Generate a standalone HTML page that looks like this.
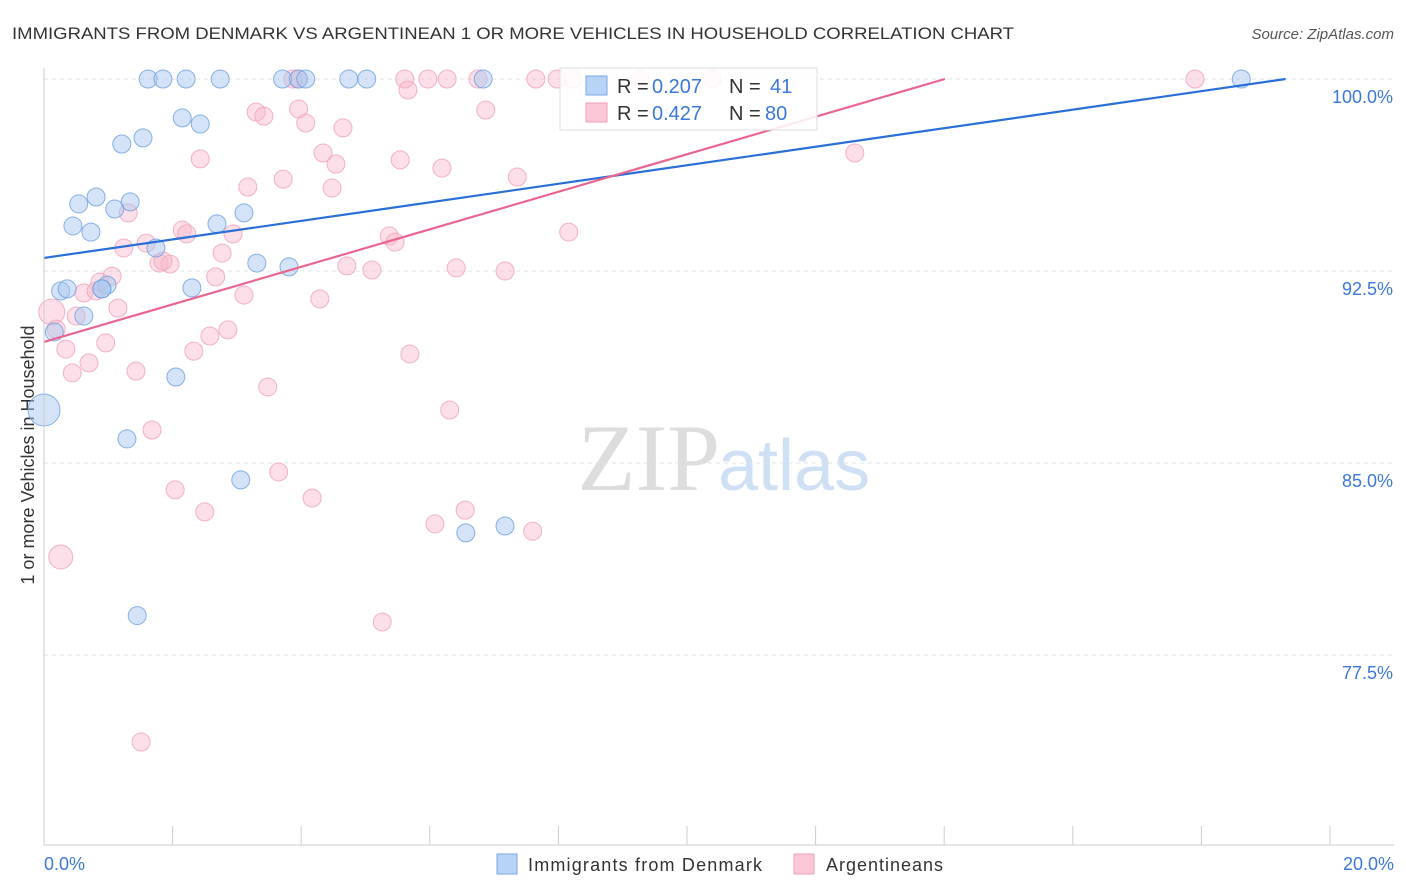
<!DOCTYPE html>
<html><head><meta charset="utf-8">
<style>
body{margin:0;background:#fff;font-family:"Liberation Sans",sans-serif;}
svg{display:block}
</style></head>
<body>
<svg id="c" width="1406" height="892" xmlns="http://www.w3.org/2000/svg">
<text x="12" y="39" font-size="17" fill="#333" textLength="1002" lengthAdjust="spacingAndGlyphs">IMMIGRANTS FROM DENMARK VS ARGENTINEAN 1 OR MORE VEHICLES IN HOUSEHOLD CORRELATION CHART</text>
<text x="1394" y="39" font-size="15" fill="#555" font-style="italic" text-anchor="end">Source: ZipAtlas.com</text>
<text x="34" y="455" font-size="18" fill="#333" text-anchor="middle" transform="rotate(-90 34 455)">1 or more Vehicles in Household</text>
<text x="720" y="490" font-size="95" fill="#ddd" text-anchor="end" font-family="Liberation Serif,serif">ZIP</text>
<text x="718" y="490" font-size="72" fill="#cfe0f5">atlas</text>
<g id="grid"></g><g id="pts"></g><g id="lines"></g>
<line x1="44" y1="68" x2="44" y2="845" stroke="#ccc"/>
<line x1="44" y1="845" x2="1394" y2="845" stroke="#ccc"/>
<text x="44" y="870" font-size="18" fill="#3b78d8">0.0%</text>
<text x="1394" y="870" font-size="18" fill="#3b78d8" text-anchor="end">20.0%</text>
<g>
<rect x="560" y="68" width="257" height="62" fill="#fff" fill-opacity="0.85" stroke="#ddd"/>
<rect x="586" y="76" width="21" height="19" fill="#b7d3f6" stroke="#7aaae8"/>
<rect x="586" y="103" width="21" height="19" fill="#fcc8d8" stroke="#f0a0b8"/>
<text x="617" y="93" font-size="20" fill="#333">R =</text>
<text x="652" y="93" font-size="20" fill="#3b78d8">0.207</text>
<text x="729" y="93" font-size="20" fill="#333">N =</text>
<text x="770" y="93" font-size="20" fill="#3b78d8">41</text>
<text x="617" y="120" font-size="20" fill="#333">R =</text>
<text x="652" y="120" font-size="20" fill="#3b78d8">0.427</text>
<text x="729" y="120" font-size="20" fill="#333">N =</text>
<text x="765" y="120" font-size="20" fill="#3b78d8">80</text>
</g>
<g>
<rect x="497" y="854" width="20" height="20" fill="#b7d3f6" stroke="#7aaae8"/>
<text x="528" y="871" font-size="18" fill="#333" textLength="234">Immigrants from Denmark</text>
<rect x="794" y="854" width="20" height="20" fill="#fcc8d8" stroke="#f0a0b8"/>
<text x="826" y="871" font-size="18" fill="#333" textLength="117">Argentineans</text>
</g>
</svg>
<script>
const yTicks=[100,92.5,85,77.5];
const xTicks=[0,2,4,6,8,10,12,14,16,18,20];
const blueX=[1.62,1.85,2.21,2.74,3.71,3.96,4.07,4.74,5.02,6.83,18.62,2.15,2.43,1.21,1.54,0.81,0.54,1.34,1.10,0.45,0.73,2.69,3.11,1.74,3.31,3.81,0.26,0.36,0.98,2.30,0.62,0.16,0.0,2.05,1.29,3.06,6.56,7.17,1.45,0.90,0.90];
const blueY=[100,100,100,100,100,100,100,100,100,100,100,98.48,98.24,97.46,97.70,95.39,95.12,95.20,94.92,94.26,94.02,94.34,94.77,93.40,92.81,92.66,91.72,91.80,91.95,91.84,90.74,90.12,87.07,88.36,85.94,84.34,82.27,82.54,79.04,91.80,91.80];
const blueS=[9,9,9,9,9,9,9,9,9,9,9,9,9,9,9,9,9,9,9,9,9,9,9,9,9,9,9,9,9,9,9,9,16,9,9,9,9,9,9,9,9];
const pinkX=[3.95,3.87,5.61,5.97,6.27,6.75,7.65,7.98,8.23,9.27,10.39,17.90,5.66,3.30,3.96,3.42,6.87,4.07,4.65,2.43,4.34,4.54,5.54,6.19,7.36,12.61,3.72,3.17,4.48,1.31,2.15,2.22,2.94,1.59,1.24,5.37,5.46,8.16,2.77,1.79,1.96,1.85,2.67,4.71,5.10,6.41,7.17,0.87,1.06,0.62,0.81,3.11,4.29,1.15,0.50,0.12,0.19,2.86,2.58,0.34,0.96,2.33,0.70,5.69,0.44,1.43,3.48,6.31,1.68,3.65,2.04,4.17,2.50,6.08,6.55,7.60,0.26,5.26,1.51];
const pinkY=[100,100,100,100,100,100,100,100,100,100,100,100,99.57,98.71,98.83,98.55,98.79,98.28,98.09,96.88,97.11,96.68,96.84,96.52,96.17,97.11,96.09,95.78,95.74,94.77,94.10,93.95,93.95,93.59,93.40,93.87,93.63,94.02,93.20,92.81,92.77,92.89,92.27,92.70,92.54,92.62,92.50,92.07,92.30,91.64,91.72,91.56,91.41,91.05,90.74,90.90,90.23,90.20,89.96,89.45,89.69,89.37,88.91,89.26,88.52,88.59,87.97,87.07,86.29,84.65,83.95,83.63,83.09,82.62,83.16,82.34,81.33,78.79,74.10];
const pinkS=[9,9,9,9,9,9,9,9,9,9,9,9,9,9,9,9,9,9,9,9,9,9,9,9,9,9,9,9,9,9,9,9,9,9,9,9,9,9,9,9,9,9,9,9,9,9,9,9,9,9,9,9,9,9,9,13,9,9,9,9,9,9,9,9,9,9,9,9,9,9,9,9,9,9,9,9,12,9,9];
const blueLine=[93.01,0.362];
const pinkLine=[89.73,0.733];
const NS='http://www.w3.org/2000/svg';
const xs=v=>44+v/20*1286;
const ys=v=>79+(100-v)/7.5*192;
function mk(t,a,p){const e=document.createElementNS(NS,t);for(const k in a)e.setAttribute(k,a[k]);p.appendChild(e);return e;}
const grid=document.getElementById('grid'),svg=document.getElementById('c');
yTicks.forEach(v=>{
 const l=mk('line',{x1:44,x2:1394,y1:ys(v),y2:ys(v),stroke:'#e3e3e3','stroke-dasharray':'4 4'},grid);
 
 
 const t=mk('text',{x:1393,y:ys(v)+24,'font-size':18,fill:'#3b78d8','text-anchor':'end'},grid);
 t.textContent=v.toFixed(1)+'%';
 
 
});
xTicks.forEach(v=>{
 const l=mk('line',{x1:xs(v),x2:xs(v),y1:845,y2:826,stroke:'#ccc'},grid);
 
 
});
const pts=document.getElementById('pts');
pinkX.forEach((x,i)=>{
 const c=mk('circle',{cx:xs(x),cy:ys(pinkY[i]),r:pinkS[i],fill:'#f9b9cd','fill-opacity':0.45,stroke:'#f0a0b8','stroke-opacity':0.8},pts);
 
 
});
blueX.forEach((x,i)=>{
 const c=mk('circle',{cx:xs(x),cy:ys(blueY[i]),r:blueS[i],fill:'#a9c8f0','fill-opacity':0.5,stroke:'#6c9fe0','stroke-opacity':0.8},pts);
 
 
});
const lines=document.getElementById('lines');
function trend(p,col,name){
 let x2=Math.min(20,(100-p[0])/p[1]);
 const l=mk('line',{x1:xs(0),y1:ys(p[0]),x2:xs(x2),y2:ys(p[0]+p[1]*x2),stroke:col,'stroke-width':2.2},lines);
 
 
}
trend(blueLine,'#2a6fd6','trend-line-denmark');
trend(pinkLine,'#e8668f','trend-line-argentineans');
</script>
</body></html>
